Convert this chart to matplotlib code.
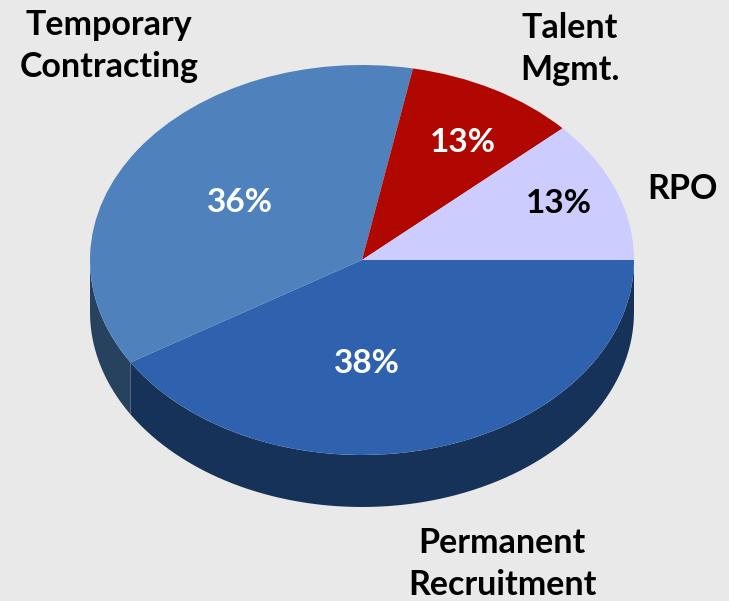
import numpy as np
from matplotlib import pyplot as plt

# slice sizes follow the drawn angles, the printed percentages are in pct_labels
slice_sizes = [41.2, 36.8, 10.2, 11.8]
pct_labels = ["38%", "36%", "13%", "13%"]
names = ["Permanent\nRecruitment", "Temporary\nContracting", "Talent\nMgmt.", "RPO"]
top_colors = ["#2f62ae", "#4f81bd", "#b00800", "#ccccff"]
side_colors = ["#173258", "#27425f", "#5e0400", "#6e6e8c"]
pct_colors = ["white", "white", "white", "black"]

W, H = 729, 601
cx, cy = 362, 260
rx, ry = 272, 195
depth = 52 / ry

plt.rcParams['font.family'] = ['Lato', 'DejaVu Sans']
fig = plt.figure(figsize=(W / 100, H / 100), dpi=100, facecolor="#e9e9e9")
ax = fig.add_axes([0, 0, 1, 1])

wedges, _ = ax.pie(slice_sizes, colors=top_colors, startangle=0, counterclock=False,
                   radius=1, center=(0, 0), wedgeprops=dict(linewidth=0, zorder=3))

# side wall, only the front half of the disc shows
edges = np.cumsum([0] + slice_sizes) / np.sum(slice_sizes) * 360
for i in range(len(slice_sizes)):
    a0, a1 = edges[i], min(edges[i + 1], 180)
    if a0 >= 180:
        continue
    t = np.radians(-np.linspace(a0, a1, 80))
    x = np.cos(t)
    y = np.sin(t)
    ax.fill(np.r_[x, x[::-1]], np.r_[y, y[::-1] - depth], color=side_colors[i], lw=0, zorder=2)

ax.set_aspect('auto')
ax.set_xlim(-cx / rx, (W - cx) / rx)
ax.set_ylim(-(H - cy) / ry, cy / ry)
ax.axis('off')


def put(px, py, s, size, **kw):
    ax.text((px - cx) / rx, (cy - py) / ry, s, ha='center', va='center',
            fontweight='bold', fontsize=size, zorder=5, **kw)


pct_pos = [(367, 364), (240, 203), (463, 143), (559, 204)]
for (px, py), s, c in zip(pct_pos, pct_labels, pct_colors):
    put(px, py, s, 24, color=c)

name_pos = [(502, 564), (109, 46), (570, 49), (682, 189)]
for (px, py), s in zip(name_pos, names):
    put(px, py, s, 24.5, color="black", linespacing=1.4)

fig.savefig("out.png", dpi=100, facecolor=fig.get_facecolor())
